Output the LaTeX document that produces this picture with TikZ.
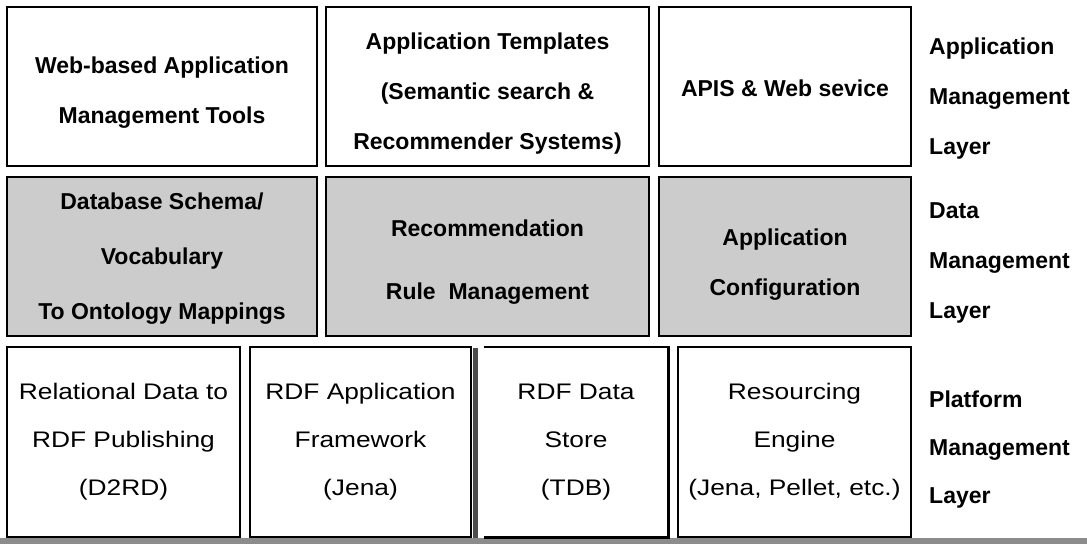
\documentclass[tikz,border=0pt]{standalone}
\usepackage{fontspec}
\setmainfont{Liberation Sans}
\newfontfamily\heavyfont{Liberation Sans Bold}
\newfontfamily\lightfont{Liberation Sans}[FakeStretch=1.17]
\begin{document}
\begin{tikzpicture}[x=1pt,y=-1pt,
  frame/.style={draw=black, line width=2.6pt, rectangle, inner sep=0pt},
  appbox/.style={frame, fill=white},
  databox/.style={frame, fill=black!20},
  platbox/.style={frame, fill=white},
  boxtext/.style={align=center, inner sep=0pt, font=\heavyfont\fontsize{23}{50}\selectfont},
  plattext/.style={align=center, inner sep=0pt, font=\lightfont\fontsize{22.5}{48}\selectfont},
  layerlabel/.style={anchor=west, align=left, inner sep=0pt, font=\heavyfont\fontsize{23}{50}\selectfont}
]
\useasboundingbox (0,0) rectangle (1087,544);
\fill[white] (0,0) rectangle (1087,544);
% scanned lower edge
\fill[black!45] (0,538) rectangle (1087,544);

% Application management layer
\node[appbox, minimum width=310, minimum height=159] (webtools) at (162,86.5) {};
\node[appbox, minimum width=323, minimum height=159] (templates) at (487.5,86.5) {};
\node[appbox, minimum width=252, minimum height=159] (apis) at (785,86.5) {};
\node[boxtext] (webtools-t) at ([yshift=-6pt]webtools.center) {Web-based Application\\Management Tools};
\node[boxtext] (templates-t) at ([yshift=-7pt]templates.center) {Application Templates\\(Semantic search \&\\Recommender Systems)};
\node[boxtext] (apis-t) at ([yshift=-2pt]apis.center) {APIS \& Web sevice};

% Data management layer
\node[databox, minimum width=310, minimum height=159] (schema) at (162,256.5) {};
\node[databox, minimum width=323, minimum height=159] (rules) at (487.5,256.5) {};
\node[databox, minimum width=252, minimum height=159] (config) at (785,256.5) {};
\node[boxtext, font=\heavyfont\fontsize{23}{55}\selectfont] (schema-t) at ([yshift=-2pt]schema.center)
  {Database Schema/\\Vocabulary\\To Ontology Mappings};
\node[boxtext, font=\heavyfont\fontsize{23}{63}\selectfont] (rules-t) at ([yshift=-6pt]rules.center)
  {Recommendation\\Rule~~Management};
\node[boxtext] (config-t) at ([yshift=-8pt]config.center) {Application\\Configuration};

% Platform management layer
\node[platbox, minimum width=233, minimum height=190] (d2rd) at (123.5,442) {};
\node[platbox, minimum width=221, minimum height=190] (jena) at (360.5,442) {};
\draw[black!70, line width=5pt] ([xshift=3.5pt,yshift=-2pt]jena.north east) -- ([xshift=3.5pt]jena.south east);
\node[minimum width=184, minimum height=190, inner sep=0pt] (tdb) at (576,442) {};
\draw[line width=2.6pt] (tdb.north west) -- (tdb.north east) -- (tdb.south east) -- (tdb.south west);
\node[platbox, minimum width=233, minimum height=190] (reasoner) at (794.5,442) {};
\node[plattext] (d2rd-t) at (d2rd.center) {Relational Data to\\RDF Publishing\\(D2RD)};
\node[plattext] (jena-t) at (jena.center) {RDF Application\\Framework\\(Jena)};
\node[plattext] (tdb-t) at (tdb.center) {RDF Data\\Store\\(TDB)};
\node[plattext] (reasoner-t) at (reasoner.center) {Resourcing\\Engine\\(Jena, Pellet, etc.)};

% Layer captions
\node[layerlabel] (appcap) at (929,99) {Application\\Management\\Layer};
\node[layerlabel] (datacap) at (929,263) {Data\\Management\\Layer};
\node[layerlabel, font=\heavyfont\fontsize{23}{48}\selectfont] (platcap) at (929,450) {Platform\\Management\\Layer};
\end{tikzpicture}
\end{document}
